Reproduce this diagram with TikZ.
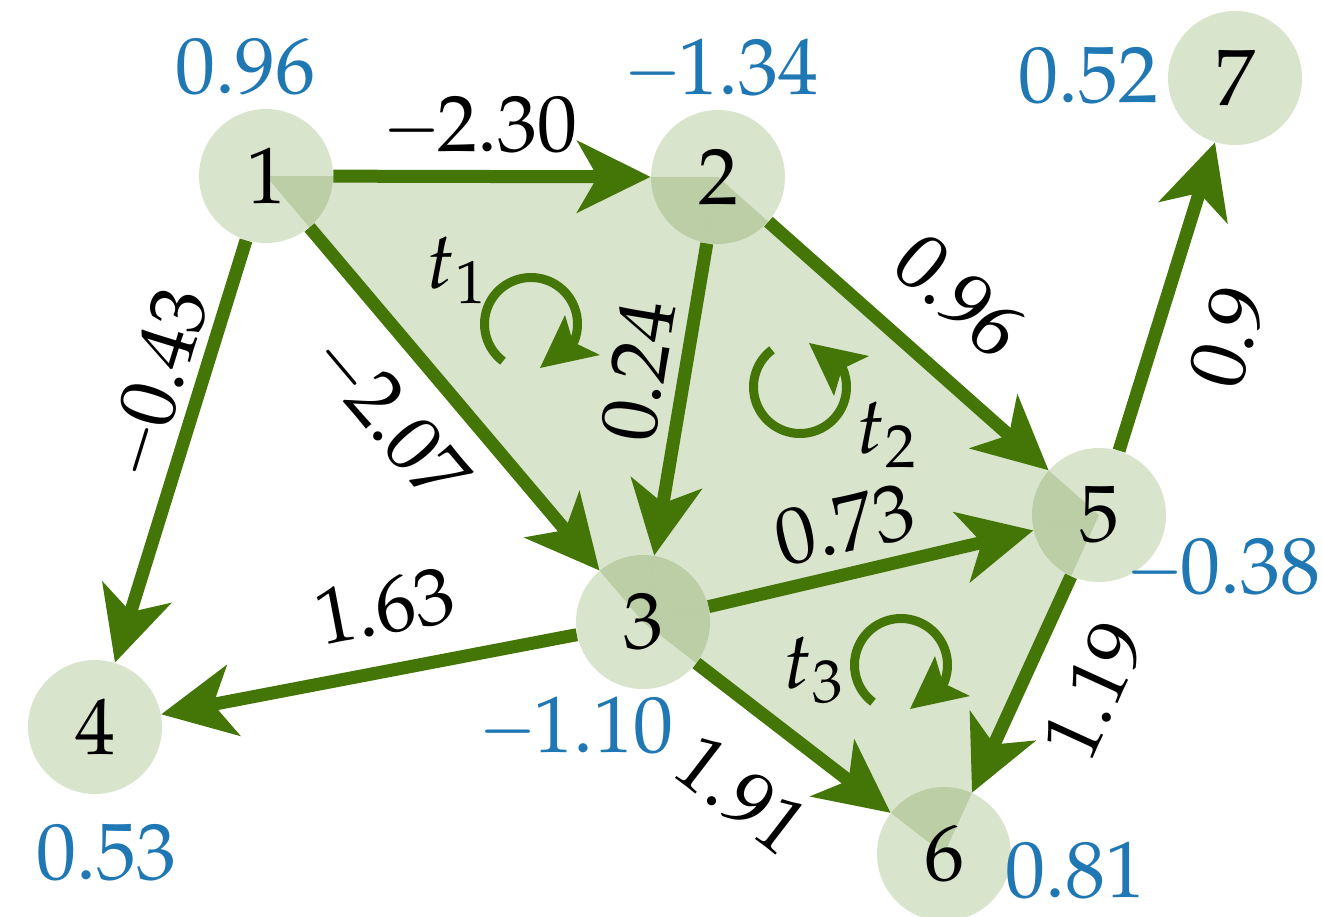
\documentclass[tikz,border=0pt]{standalone}
\usepackage{mathpazo}
\usepackage{graphicx}
\usetikzlibrary{arrows.meta}
\definecolor{egreen}{RGB}{67,118,6}
\definecolor{vblue}{RGB}{31,119,180}
\newcommand\mneg{\scalebox{0.88}[1]{$-$}\kern-0.05em}
\tikzset{
  vertex/.style={circle, minimum size=67pt, inner sep=0pt, fill=egreen,
    fill opacity=0.2, text opacity=1, font=\fontsize{40}{48}\selectfont},
  tri/.style={fill=egreen, fill opacity=0.2},
  edge/.style={draw=egreen, line width=6.5pt,
    -{Stealth[length=36.5pt,width=35.5pt,inset=10pt]}},
  elabel/.style={inner sep=0pt, font=\fontsize{40}{48}\selectfont},
  vlabel/.style={inner sep=0pt, text=vblue, font=\fontsize{40}{48}\selectfont},
  rotline/.style={draw=egreen, line width=4.5pt},
  rothead/.style={fill=egreen},
  rotmark/.pic={
    \draw[rotline] plot[domain=127:385, samples=80] ({46.5*cos(\x)},{46.5*sin(\x)});
    \fill[rothead] (9,44) -- (34,-9) -- (42,18) -- (69,31) -- cycle;
  }
}
\begin{document}
\begin{tikzpicture}[x=0.5pt,y=-0.5pt]
\useasboundingbox (0,0) rectangle (1323,916);
\clip (0,0) rectangle (1323,916);
% centres
\coordinate (c1) at (266,176);
\coordinate (c2) at (718,177);
\coordinate (c3) at (643,622);
\coordinate (c4) at (95,727);
\coordinate (c5) at (1099,515);
\coordinate (c6) at (944,854);
\coordinate (c7) at (1235,78);
% triangles
\fill[tri] (c1) -- (c2) -- (c3) -- cycle;
\fill[tri] (c2) -- (c5) -- (c3) -- cycle;
\fill[tri] (c3) -- (c5) -- (c6) -- cycle;
% vertices
\node[vertex] (n1) at (c1) {$1$};
\node[vertex] (n2) at (c2) {$2$};
\node[vertex] (n3) at (c3) {$3$};
\node[vertex] (n4) at (c4) {$4$};
\node[vertex] (n5) at (c5) {$5$};
\node[vertex] (n6) at (c6) {$6$};
\node[vertex] (n7) at (c7) {$7$};
% edges
\draw[edge] (n1) -- (n2);
\draw[edge] (n1) -- (n4);
\draw[edge] (n1) -- (n3);
\draw[edge] (n2) -- (n3);
\draw[edge] (n2) -- (n5);
\draw[edge] (n3) -- (n5);
\draw[edge] (n3) -- (n4);
\draw[edge] (n3) -- (n6);
\draw[edge] (n5) -- (n6);
\draw[edge] (n5) -- (n7);
% edge labels
\node[elabel] (l12) at (480,128) {\mneg$2.30$};
\node[elabel, rotate=72.8] (l14) at (158,384) {\mneg$0.43$};
\node[elabel, rotate=-49.8] (l13) at (388,418) {\mneg$2.07$};
\node[elabel, rotate=10.8] (l34) at (385,606) {$1.63$};
\node[elabel, rotate=80.4] (l23) at (638,371) {$0.24$};
\node[elabel, rotate=-41.6] (l25) at (960,296) {$0.96$};
\node[elabel, rotate=13.2] (l35) at (845,525) {$0.73$};
\node[elabel, rotate=-37.6] (l36) at (742,795) {$1.91$};
\node[elabel, rotate=65.4] (l56) at (1094,690) {$1.19$};
\node[elabel, rotate=72.7] (l57) at (1228,337) {$0.9$};
% vertex values
\node[vlabel] (v1) at (245,67) {$0.96$};
\node[vlabel] (v2) at (721,70) {\mneg$1.34$};
\node[vlabel] (v7) at (1088,76) {$0.52$};
\node[vlabel] (v5) at (1223,570) {\mneg$0.38$};
\node[vlabel] (v3) at (576,728) {\mneg$1.10$};
\node[vlabel] (v4) at (106,853) {$0.53$};
\node[vlabel] (v6) at (1075,870) {$0.81$};
% circulation marks
\coordinate (r1) at (531,324);
\coordinate (r2) at (800,387);
\coordinate (r3) at (901,665);
\pic at (r1) {rotmark};
\pic[yscale=-1] at (r2) {rotmark};
\pic at (r3) {rotmark};
\node[elabel] (t1) at (457,270) {$t_1$};
\node[elabel] (t2) at (887,435) {$t_2$};
\node[elabel] (t3) at (814,670) {$t_3$};
\end{tikzpicture}
\end{document}
